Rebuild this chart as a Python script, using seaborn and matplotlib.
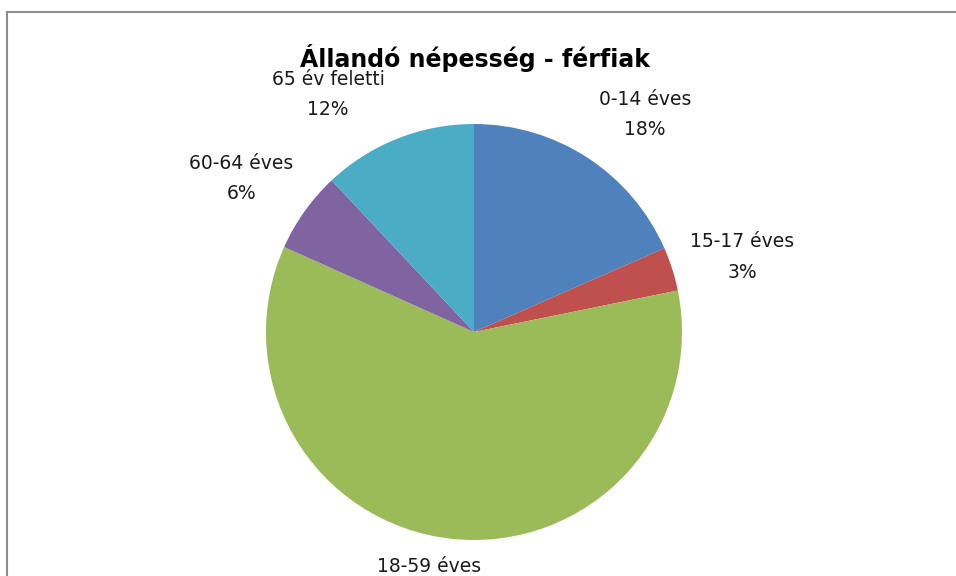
import numpy as np
import matplotlib
matplotlib.use("Agg")
import matplotlib.pyplot as plt
from matplotlib.patches import Rectangle
import seaborn as sns

# data
categories = ["0-14 éves", "15-17 éves", "18-59 éves", "60-64 éves", "65 év feletti"]
shares = [18.4, 3.4, 59.9, 6.3, 12.0]
pct_labels = ["18%", "3%", "60%", "6%", "12%"]
colors = ["#4F81BD", "#C0504D", "#9BBB59", "#8064A2", "#4BACC6"]

sns.set_theme(style="white")
plt.rcParams['font.family'] = ['DejaVu Sans']

fig = plt.figure(figsize=(9.56, 5.76), dpi=100)
ax = fig.add_axes([0, 0, 1, 1])

wedges, _ = ax.pie(shares, colors=sns.color_palette(colors), startangle=90,
                   counterclock=False, radius=1.0,
                   wedgeprops=dict(linewidth=0))

# pie centre at (474, 332) px, radius 208 px
R = 208.0
cx, cy = 474.0, 332.0
ax.set_xlim(-cx / R, (956 - cx) / R)
ax.set_ylim(-(576 - cy) / R, cy / R)
ax.set_aspect("equal")
ax.axis("off")

# label placement: distance from centre and angle nudges, Excel-style
label_dist = [1.33, 1.34, 1.22, 1.34, 1.34]
angle_shift = [-5, -2, -4, 2, 10]
for w, name, pct, d, da in zip(wedges, categories, pct_labels, label_dist, angle_shift):
    ang = np.deg2rad((w.theta1 + w.theta2) / 2 + da)
    ax.text(d * np.cos(ang), d * np.sin(ang), f"{name}\n\n{pct}",
            ha="center", va="center", fontsize=13.5, color="#1a1a1a",
            linespacing=0.75)

fig.text(475 / 956, 1 - 58 / 576, "Állandó népesség - férfiak",
         ha="center", va="center", fontsize=17, fontweight="bold", color="black")

# chart frame (runs off the right and bottom edges)
fig.patches.append(Rectangle((7 / 956, -0.1), 1.2, (576 - 12) / 576 + 0.1,
                             transform=fig.transFigure, fill=False,
                             edgecolor="#8c8c8c", linewidth=1.5))

fig.savefig("out.png", dpi=100, facecolor="white")
